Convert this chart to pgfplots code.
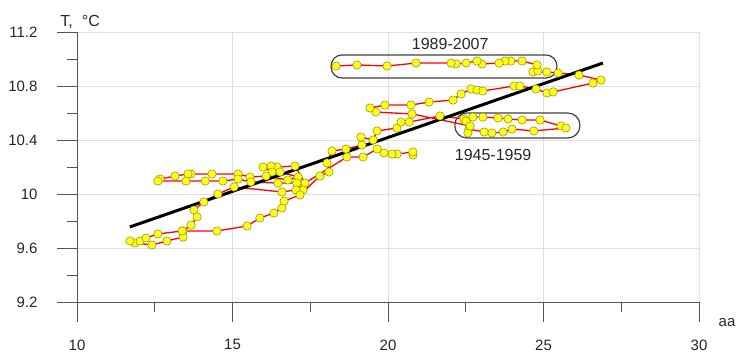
\documentclass[border=0pt]{standalone}
\usepackage{pgfplots}
\pgfplotsset{compat=1.18}
\usepackage{fontspec}
\setmainfont{Liberation Sans}
\definecolor{dotfill}{HTML}{FFFF1A}
\definecolor{dotedge}{HTML}{8C8A00}
\definecolor{axgray}{HTML}{555555}
\begin{document}
\begin{tikzpicture}
\begin{axis}[
  scale only axis, width=622pt, height=270pt,
  xmin=10, xmax=30, ymin=9.2, ymax=11.2,
  axis lines=left, axis line style={-, draw=axgray, line width=0.9pt},
  xtick={10,15,20,25,30}, ytick={9.2,9.6,10,10.4,10.8,11.2},
  tick align=outside, major tick length=20pt, minor tick length=10pt,
  tick style={draw=axgray, line width=0.9pt},
  grid=major, major grid style={draw=gray!25, line width=0.6pt},
  /pgf/number format/assume math mode=true,
  ticklabel style={font=\fontsize{15}{18}\selectfont, text=black!85},
  xticklabel style={yshift=-14pt},
  yticklabel style={xshift=-16pt},
  clip=false,
]
\path (axis cs:7.524,8.830) rectangle (axis cs:31.286,11.437);
% tick marks
\draw[axgray, line width=0.9pt] (axis cs:10,9.2) -- ++(0pt,-20pt);
\draw[axgray, line width=0.9pt] (axis cs:12.5,9.2) -- ++(0pt,-10pt);
\draw[axgray, line width=0.9pt] (axis cs:15,9.2) -- ++(0pt,-20pt);
\draw[axgray, line width=0.9pt] (axis cs:17.5,9.2) -- ++(0pt,-10pt);
\draw[axgray, line width=0.9pt] (axis cs:20,9.2) -- ++(0pt,-20pt);
\draw[axgray, line width=0.9pt] (axis cs:22.5,9.2) -- ++(0pt,-10pt);
\draw[axgray, line width=0.9pt] (axis cs:25,9.2) -- ++(0pt,-20pt);
\draw[axgray, line width=0.9pt] (axis cs:27.5,9.2) -- ++(0pt,-10pt);
\draw[axgray, line width=0.9pt] (axis cs:30,9.2) -- ++(0pt,-20pt);
\draw[axgray, line width=0.9pt] (axis cs:10,9.2) -- ++(-20pt,0pt);
\draw[axgray, line width=0.9pt] (axis cs:10,9.4) -- ++(-10pt,0pt);
\draw[axgray, line width=0.9pt] (axis cs:10,9.6) -- ++(-20pt,0pt);
\draw[axgray, line width=0.9pt] (axis cs:10,9.8) -- ++(-10pt,0pt);
\draw[axgray, line width=0.9pt] (axis cs:10,10.0) -- ++(-20pt,0pt);
\draw[axgray, line width=0.9pt] (axis cs:10,10.2) -- ++(-10pt,0pt);
\draw[axgray, line width=0.9pt] (axis cs:10,10.4) -- ++(-20pt,0pt);
\draw[axgray, line width=0.9pt] (axis cs:10,10.6) -- ++(-10pt,0pt);
\draw[axgray, line width=0.9pt] (axis cs:10,10.8) -- ++(-20pt,0pt);
\draw[axgray, line width=0.9pt] (axis cs:10,11.0) -- ++(-10pt,0pt);
\draw[axgray, line width=0.9pt] (axis cs:10,11.2) -- ++(-20pt,0pt);
\draw[black!75, line width=1.2pt, rounded corners=11pt] (axis cs:18.17,10.859) rectangle (axis cs:25.43,11.030);
\draw[black!75, line width=1.2pt, rounded corners=12pt] (axis cs:22.15,10.415) rectangle (axis cs:26.17,10.600);
\addplot[red, line width=1.3pt, mark=*, mark size=4.2pt,
  mark options={fill=dotfill, draw=dotedge, line width=0.5pt}] coordinates {
(20.80,10.289) (20.80,10.311) (20.29,10.296) (20.13,10.296) (19.87,10.304)
(19.65,10.333) (19.20,10.274) (18.68,10.274) (17.33,10.081) (17.01,10.207)
(16.43,10.200) (16.24,10.207) (15.98,10.200) (16.27,10.163) (16.53,10.163)
(17.11,10.126) (16.78,10.104) (16.08,10.133) (15.56,10.126) (15.18,10.148)
(14.34,10.148) (13.67,10.148) (13.57,10.148) (13.15,10.133) (12.67,10.111)
(12.60,10.096) (13.50,10.096) (14.12,10.096) (14.69,10.096) (15.18,10.111)
(15.59,10.089) (16.46,10.081) (17.07,10.081) (17.27,10.030) (17.04,10.030)
(16.59,10.015) (15.05,10.052) (14.53,10.000) (14.08,9.941) (13.76,9.881)
(13.86,9.830) (13.67,9.770) (13.41,9.726) (13.41,9.681) (12.89,9.652)
(12.41,9.622) (11.86,9.637) (11.70,9.652) (12.03,9.652) (12.22,9.674)
(12.60,9.704) (13.38,9.726) (14.50,9.726) (15.47,9.763) (15.88,9.822)
(16.33,9.859) (16.59,9.896) (16.66,9.948) (17.17,9.993) (17.81,10.133)
(18.10,10.163) (18.04,10.230) (18.20,10.319) (18.65,10.333) (19.16,10.363)
(19.13,10.422) (19.52,10.400) (19.65,10.467) (20.29,10.489) (20.42,10.533)
(20.68,10.533) (21.67,10.578) (22.44,10.556) (22.51,10.541) (22.73,10.570)
(23.05,10.570) (23.54,10.563) (23.86,10.556) (24.31,10.548) (24.89,10.548)
(25.56,10.504) (25.72,10.489) (24.69,10.467) (23.99,10.481) (23.70,10.459)
(23.34,10.452) (23.09,10.459) (22.60,10.481) (22.57,10.452) (22.64,10.504)
(20.77,10.593) (19.61,10.607) (19.42,10.637) (19.90,10.659) (20.74,10.659)
(21.32,10.681) (22.09,10.696) (22.35,10.741) (22.67,10.778) (22.86,10.770)
(23.05,10.763) (24.05,10.800) (24.24,10.800) (24.76,10.778) (25.11,10.748)
(25.31,10.756) (26.59,10.822) (26.85,10.844) (26.14,10.881) (25.47,10.896)
(25.11,10.904) (24.66,10.904) (24.82,10.911) (24.79,10.956) (24.31,10.985)
(23.95,10.985) (23.76,10.985) (23.57,10.970) (23.02,10.963) (22.86,10.985)
(22.51,10.970) (22.19,10.963) (22.03,10.970) (20.90,10.970) (19.97,10.948)
(19.00,10.956) (18.33,10.948)
};
\addplot[black, line width=3pt] coordinates {(11.70,9.756) (26.91,10.970)};
\node[font=\fontsize{16}{19}\selectfont, text=black!85] at (axis cs:22.0,11.111) {1989-2007};
\node[font=\fontsize{16}{19}\selectfont, text=black!85] at (axis cs:23.38,10.289) {1945-1959};
\node[font=\fontsize{16}{19}\selectfont, text=black!85] at (axis cs:10.1,11.274) {T,\hspace{9pt}°C};
\node[font=\fontsize{15}{18}\selectfont, text=black!85] at (axis cs:30.9,9.05) {aa};
\end{axis}
\end{tikzpicture}
\end{document}
